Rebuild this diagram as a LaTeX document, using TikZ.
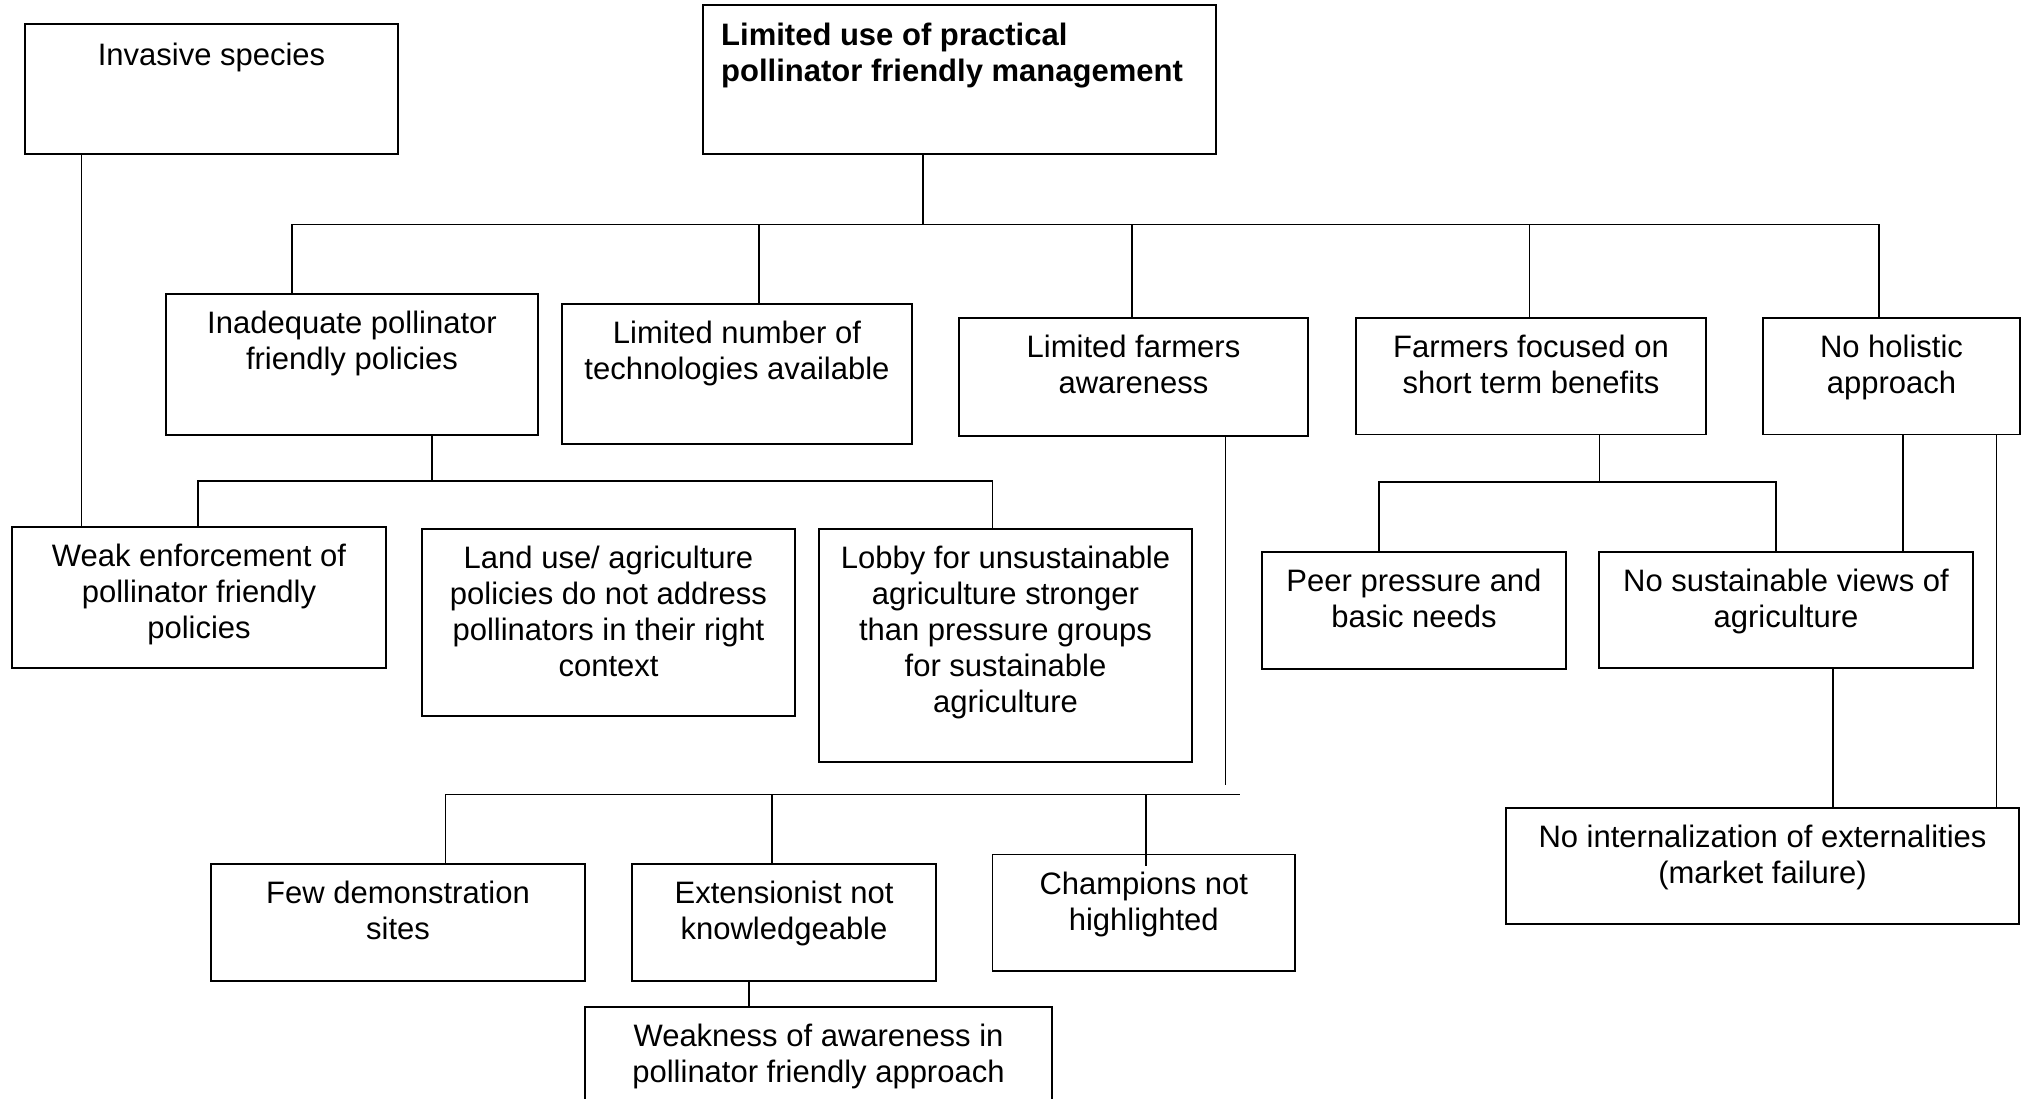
\documentclass[tikz,border=0pt]{standalone}
\usepackage{fontspec}
\setmainfont{Liberation Sans}
\begin{document}
\begin{tikzpicture}[x=1pt,y=-1pt,
  box/.style={draw, line width=1.8pt, anchor=north west, inner sep=0pt, outer sep=0pt},
  txt/.style={anchor=north, align=center, inner sep=0pt, font=\fontsize{31}{36}\selectfont, execute at begin node=\strut},
  conn/.style={line width=1.5pt}]
\useasboundingbox (0,0) rectangle (2027,1098);
\fill[white] (0,0) rectangle (2027,1098);
\clip (0,0) rectangle (2027,1098);
% boxes
\node[box, minimum width=373pt, minimum height=130pt] (inv) at (25,24) {};
\node[box, minimum width=513pt, minimum height=149pt] (top) at (703,5) {};
\node[box, minimum width=372pt, minimum height=141pt] (inad) at (166,294) {};
\node[box, minimum width=350pt, minimum height=140pt] (tech) at (562,304) {};
\node[box, minimum width=349pt, minimum height=118pt] (aware) at (959,318) {};
\node[box, minimum width=350pt, minimum height=116.5pt] (short) at (1356,318) {};
\node[box, minimum width=257pt, minimum height=116.5pt] (holi) at (1763,318) {};
\node[box, minimum width=374pt, minimum height=141pt] (weak) at (12,527) {};
\node[box, minimum width=373pt, minimum height=187pt] (land) at (422,529) {};
\node[box, minimum width=373pt, minimum height=233pt] (lobby) at (819,529) {};
\node[box, minimum width=304pt, minimum height=117pt] (peer) at (1262,552) {};
\node[box, minimum width=374pt, minimum height=116pt] (nosus) at (1599,552) {};
\node[box, minimum width=374pt, minimum height=117pt] (few) at (211,864) {};
\node[box, minimum width=304pt, minimum height=117pt] (ext) at (632,864) {};
\node[box, minimum width=302.5pt, minimum height=116.5pt] (champ) at (992.5,854.5) {};
\node[box, minimum width=467pt, minimum height=110pt] (weakn) at (585,1007) {};
\node[box, minimum width=513pt, minimum height=116pt] (noint) at (1506,808) {};
% texts
\node[txt] (inv-t) at ([yshift=-16.5pt]inv.north) {Invasive species};
\node[txt, anchor=north west, align=left, font=\fontsize{31}{36}\selectfont\bfseries] (top-t) at (721,23) {Limited use of practical\\pollinator friendly management};
\node[txt] (inad-t) at ([yshift=-17pt]inad.north) {Inadequate pollinator\\friendly policies};
\node[txt] (tech-t) at ([yshift=-17pt]tech.north) {Limited number of\\technologies available};
\node[txt] (aware-t) at ([yshift=-17pt]aware.north) {Limited farmers\\awareness};
\node[txt] (short-t) at ([yshift=-17pt]short.north) {Farmers focused on\\short term benefits};
\node[txt] (holi-t) at ([yshift=-17pt]holi.north) {No holistic\\approach};
\node[txt] (weak-t) at ([yshift=-17pt]weak.north) {Weak enforcement of\\pollinator friendly\\policies};
\node[txt] (land-t) at ([yshift=-17pt]land.north) {Land use/ agriculture\\policies do not address\\pollinators in their right\\context};
\node[txt] (lobby-t) at ([yshift=-17pt]lobby.north) {Lobby for unsustainable\\agriculture stronger\\than pressure groups\\for sustainable\\agriculture};
\node[txt] (peer-t) at ([yshift=-17pt]peer.north) {Peer pressure and\\basic needs};
\node[txt] (nosus-t) at ([yshift=-17pt]nosus.north) {No sustainable views of\\agriculture};
\node[txt] (few-t) at ([yshift=-17pt]few.north) {Few demonstration\\sites};
\node[txt] (ext-t) at ([yshift=-17pt]ext.north) {Extensionist not\\knowledgeable};
\node[txt] (champ-t) at ([yshift=-17pt]champ.north) {Champions not\\highlighted};
\node[txt] (weakn-t) at ([yshift=-17pt]weakn.north) {Weakness of awareness in\\pollinator friendly approach};
\node[txt] (noint-t) at ([yshift=-17pt]noint.north) {No internalization of externalities\\(market failure)};
% coordinates
\coordinate (b1T) at (923,224.5);
\coordinate (b1L) at (292,224.5);
\coordinate (b1c) at (759,224.5);
\coordinate (b1d) at (1132,224.5);
\coordinate (b1e) at (1529.6,224.5);
\coordinate (b1R) at (1879,224.5);
\coordinate (b2T) at (432,481);
\coordinate (b2L) at (198,481);
\coordinate (b2R) at (992.5,481);
\coordinate (invx) at (81.5,0);
\coordinate (b3s) at (1225.5,785);
\coordinate (b3L) at (445.3,794.5);
\coordinate (b3m) at (772,794.5);
\coordinate (b3c) at (1146,794.5);
\coordinate (b3R) at (1239.6,794.5);
\coordinate (e1) at (749,0);
\coordinate (b4T) at (1599.3,482);
\coordinate (b4L) at (1379,482);
\coordinate (b4R) at (1776,482);
\coordinate (h1) at (1903,0);
\coordinate (h2) at (1996.4,0);
\coordinate (n1) at (1833,0);
% connectors
\draw[conn] (top.south -| b1T) -- (b1T);
\draw[conn] (inad.north -| b1L) -- (b1L) -- (b1R) -- (holi.north -| b1R);
\draw[conn] (b1c) -- (tech.north -| b1c);
\draw[conn] (b1d) -- (aware.north -| b1d);
\draw[conn] (b1e) -- (short.north -| b1e);
\draw[conn] (inad.south -| b2T) -- (b2T);
\draw[conn] (weak.north -| b2L) -- (b2L) -- (b2R) -- (lobby.north -| b2R);
\draw[conn] (inv.south -| invx) -- (weak.north -| invx);
\draw[conn] (aware.south -| b3s) -- (b3s);
\draw[conn] (few.north -| b3L) -- (b3L) -- (b3R);
\draw[conn] (b3m) -- (ext.north -| b3m);
\draw[conn] (b3c) -- ([yshift=-11pt]champ.north -| b3c);
\draw[conn] (ext.south -| e1) -- (weakn.north -| e1);
\draw[conn] (short.south -| b4T) -- (b4T);
\draw[conn] (peer.north -| b4L) -- (b4L) -- (b4R) -- (nosus.north -| b4R);
\draw[conn] (holi.south -| h1) -- (nosus.north -| h1);
\draw[conn] (holi.south -| h2) -- (noint.north -| h2);
\draw[conn] (nosus.south -| n1) -- (noint.north -| n1);
\end{tikzpicture}
\end{document}
